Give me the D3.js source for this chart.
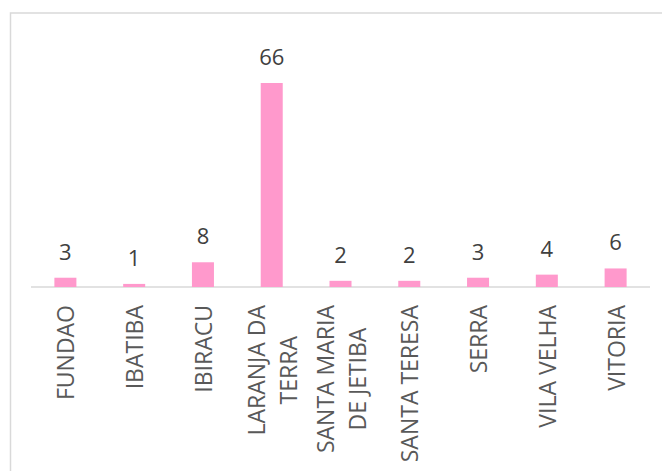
<!DOCTYPE html>
<html><head><meta charset="utf-8">
<script src="https://cdn.jsdelivr.net/npm/d3@7"></script>
<style>body{margin:0;background:#fff;}svg{display:block;}</style>
</head><body>
<svg id="c" width="662" height="471"></svg>
<script>
const categories = ["FUNDAO","IBATIBA","IBIRACU","LARANJA DA TERRA","SANTA MARIA DE JETIBA","SANTA TERESA","SERRA","VILA VELHA","VITORIA"];
const labelLines = [["FUNDAO"],["IBATIBA"],["IBIRACU"],["LARANJA DA","TERRA"],["SANTA MARIA","DE JETIBA"],["SANTA TERESA"],["SERRA"],["VILA VELHA"],["VITORIA"]];
const values = [3,1,8,66,2,2,3,4,6];

const svg = d3.select("#c");
const font = "'Open Sans', sans-serif";
svg.append("rect").attr("x",10.5).attr("y",13).attr("width",660).attr("height",470)
  .attr("fill","none").attr("stroke","#d9d9d9").attr("stroke-width",1.5);

const x = d3.scaleBand().domain(categories).range([31,650]).paddingInner(0.68).paddingOuter(0.34);
const y = d3.scaleLinear().domain([0,66]).range([287,83]);

svg.append("line").attr("x1",31).attr("x2",650).attr("y1",287).attr("y2",287)
  .attr("stroke","#d9d9d9").attr("stroke-width",1.5);

svg.selectAll("rect.bar").data(categories).join("rect").attr("class","bar")
  .attr("x",d=>x(d)).attr("width",x.bandwidth())
  .attr("y",(d,i)=>y(values[i])).attr("height",(d,i)=>y(0)-y(values[i]))
  .attr("fill","#ff99cc");

svg.selectAll("text.val").data(categories).join("text").attr("class","val")
  .attr("x",d=>x(d)+x.bandwidth()/2).attr("y",(d,i)=>y(values[i])-18)
  .attr("text-anchor","middle").attr("font-family",font).attr("font-size",22)
  .attr("fill","#404040").text((d,i)=>values[i]);

const labelTop = 305, lineGap = 32;
categories.forEach((c,i)=>{
  const lines = labelLines[i];
  const cx = x(c)+x.bandwidth()/2;
  const g = svg.append("g");
  const texts = lines.map((t,j)=>{
    const xo = cx + (j-(lines.length-1)/2)*lineGap;
    const el = g.append("text").attr("font-family",font).attr("font-size",23).attr("fill","#595959")
      .attr("text-anchor","middle").attr("dominant-baseline","central").text(t);
    return {el, xo};
  });
  const maxLen = d3.max(texts,t=>t.el.node().getComputedTextLength());
  const cy = labelTop + maxLen/2;
  texts.forEach(t=>{
    t.el.attr("transform",`translate(${t.xo},${cy}) rotate(-90)`);
  });
});
</script>
</body></html>
